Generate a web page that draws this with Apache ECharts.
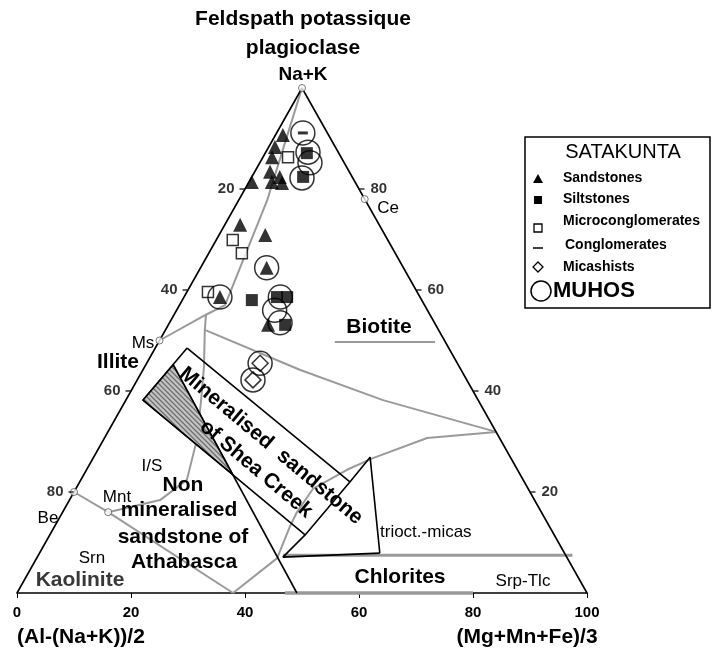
<!DOCTYPE html>
<html>
<head>
<meta charset="utf-8">
<title>Diagramme ternaire Na+K / Al / Mg+Mn+Fe</title>
<script src="https://cdn.jsdelivr.net/npm/echarts@6/dist/echarts.min.js"></script>
<style>
  html, body { margin: 0; padding: 0; background: #fff; }
  #chart { width: 714px; height: 652px; }
</style>
</head>
<body>
<div id="chart"></div>
<script>
// compositions : [ (Al-(Na+K))/2 , Na+K , (Mg+Mn+Fe)/3 ]
var sandstones = [
  [8.0, 90.7, 1.3], [10.6, 88.3, 1.1], [12.1, 86.3, 1.6], [13.9, 83.4, 2.7],
  [12.7, 82.4, 4.9], [18.1, 81.4, 0.5], [14.6, 81.4, 4.0], [12.9, 81.2, 5.9],
  [24.4, 72.9, 2.7], [21.0, 70.9, 8.1], [24.0, 64.4, 11.6], [35.1, 58.6, 6.3],
  [29.4, 53.1, 17.5]
];
var siltstones = [
  [5.6, 87.1, 7.3], [8.6, 82.4, 9.0], [29.8, 58.0, 12.2],
  [25.1, 58.6, 16.3], [23.3, 58.6, 18.1], [26.4, 53.1, 20.5]
];
var microconglomerates = [[9.3, 86.3, 4.4], [27.2, 69.9, 2.9], [26.9, 67.3, 5.8], [36.7, 59.6, 3.7]];
var conglomerates = [[4.3, 91.1, 4.6]];
var micashists = [[34.6, 45.5, 19.9], [37.5, 42.2, 20.3]];
var muhos = [
  [4.3, 91.1, 4.6], [5.3, 87.3, 7.4], [6.0, 85.2, 8.8], [8.9, 82.2, 8.9],
  [24.0, 64.4, 11.6], [35.1, 58.6, 6.3], [24.5, 58.6, 16.9], [26.8, 56.0, 17.2],
  [27.1, 53.5, 19.4], [34.6, 45.5, 19.9], [37.5, 42.2, 20.3]
];

// poles mineraux (apex, Ce, Ms, Be, Mnt)
var mineralPoles = [[0, 100, 0], [0, 78, 22], [50, 50, 0], [80, 20, 0], [76, 16, 8]];

// graduations
var bottomTicks = [0, 20, 40, 60, 80, 100];
var leftTicks = [20, 40, 60, 80];
var rightTicks = [20, 40, 60, 80];

// limites (gris)
var apexToMs = [[0, 100, 0], [17.2, 77.8, 5.0], [35.0, 57.0, 8.0], [39.3, 55.1, 5.6], [50, 50, 0]];
var illiteBiotite = [[39.3, 55.1, 5.6], [41.0, 52.1, 6.9], [28.3, 44.2, 27.5], [16.7, 38.2, 45.1], [0, 31.9, 68.1]];
var illiteSmectite = [[41.0, 52.1, 6.9], [44.8, 44.8, 10.4], [48.6, 38.2, 13.2], [53.3, 30.3, 16.4], [59.0, 22.4, 18.6], [65.7, 18.4, 15.9], [76, 16, 8]];
var beidelliteLine = [[80, 20, 0], [76, 16, 8], [62.1, 0, 37.9]];
var chloriteCurve = [[62.1, 0, 37.9], [50.9, 6.9, 42.2], [45.6, 13.1, 41.3], [42.9, 16.0, 41.1], [37.8, 20.6, 41.6], [29.9, 24.4, 45.7], [24.2, 26.7, 49.1], [12.7, 30.7, 56.6], [0, 31.9, 68.1]];
var chloriteTop = [[49.6, 7.5, 42.9], [-1.2, 7.5, 93.7]];
var chloriteBase = [[53, 0, 47], [20, 0, 80]];
var biotiteMark = [[19.4, 49.7, 30.9], [1.8, 49.7, 48.5]];

// limites (noir)
var sheaCreekBox = [[45.9, 48.5, 5.6], [30.6, 22.0, 47.4], [43.7, 11.5, 44.8], [58.8, 38.2, 3.0], [45.9, 48.5, 5.6]];
var athabascaLimit = [[50.0, 45.2, 4.8], [50.9, 0, 49.1]];
var triocticLimit = [[30.6, 22.0, 47.4], [24.6, 26.9, 48.5], [32.4, 7.9, 59.7]];
var chloriteLimit = [[43.7, 11.5, 44.8], [49.8, 7.1, 43.1], [32.4, 7.9, 59.7]];
var sheaHatch = [[58.8, 38.2, 3.0], [50.0, 45.2, 4.8], [50.4, 23.4, 26.2]];

// ternaire -> plan (x : 0..100 sur la base, y : Na+K)
function tern(p) {
  var s = p[0] + p[1] + p[2];
  return [(p[2] + p[1] / 2) / s * 100, p[1] / s * 100];
}
function path(arr) { return arr.map(tern); }

var FONT = '"Liberation Sans", Arial, sans-serif';

function lineSeries(pts, color, width, z) {
  return {
    type: 'line', data: path(pts), symbol: 'none', silent: true, clip: false,
    lineStyle: { color: color, width: width }, z: z, animation: false
  };
}

// motif hachure
var cv = document.createElement('canvas');
cv.width = 5; cv.height = 5;
var cx = cv.getContext('2d');
cx.fillStyle = '#c4c4c4';
cx.fillRect(0, 0, 5, 5);
cx.strokeStyle = '#6e6e6e';
cx.lineWidth = 1.3;
cx.beginPath();
cx.moveTo(-1, -1); cx.lineTo(6, 6);
cx.moveTo(-1, 4); cx.lineTo(1, 6);
cx.moveTo(4, -1); cx.lineTo(6, 1);
cx.stroke();

var chart = echarts.init(document.getElementById('chart'));

var series = [
  lineSeries(apexToMs, '#9a9a9a', 2, 2),
  lineSeries(illiteBiotite, '#9a9a9a', 2, 2),
  lineSeries(illiteSmectite, '#9a9a9a', 2, 2),
  lineSeries(beidelliteLine, '#9a9a9a', 2, 2),
  lineSeries(chloriteCurve, '#9a9a9a', 2, 2),
  lineSeries(chloriteTop, '#9a9a9a', 3, 2),
  lineSeries(chloriteBase, '#9a9a9a', 3.5, 3),
  lineSeries(biotiteMark, '#9a9a9a', 2, 2),
  {
    type: 'custom', coordinateSystem: 'cartesian2d', data: [[0, 0]], silent: true, z: 3,
    renderItem: function (params, api) {
      var pts = sheaHatch.map(function (p) { return api.coord(tern(p)); });
      return {
        type: 'polygon', shape: { points: pts },
        style: { fill: { image: cv, repeat: 'repeat' }, stroke: '#000', lineWidth: 1.2 }
      };
    }
  },
  lineSeries(sheaCreekBox, '#000', 1.6, 4),
  lineSeries(athabascaLimit, '#000', 1.6, 4),
  lineSeries(triocticLimit, '#000', 1.6, 4),
  lineSeries(chloriteLimit, '#000', 1.6, 4),
  lineSeries([[100, 0, 0], [0, 100, 0], [0, 0, 100]], '#000', 1.6, 4),
  {
    type: 'scatter', data: path(mineralPoles), symbol: 'circle', symbolSize: 7, clip: false, z: 5,
    itemStyle: { color: '#fff', borderColor: '#555', borderWidth: 1 }
  },
  {
    type: 'scatter', clip: false, z: 5, symbol: 'rect', symbolSize: [5, 1.5], symbolOffset: [-3, 0],
    itemStyle: { color: '#000' },
    data: leftTicks.map(function (a) { return { value: tern([a, 100 - a, 0]), name: String(a) }; }),
    label: { show: true, position: 'left', distance: 5, formatter: '{b}', color: '#000', fontSize: 15, fontWeight: 'bold', fontFamily: FONT }
  },
  {
    type: 'scatter', clip: false, z: 5, symbol: 'rect', symbolSize: [5, 1.5], symbolOffset: [3, 0],
    itemStyle: { color: '#000' },
    data: rightTicks.map(function (k) { return { value: tern([0, k, 100 - k]), name: String(k) }; }),
    label: { show: true, position: 'right', distance: 6, formatter: '{b}', color: '#000', fontSize: 15, fontWeight: 'bold', fontFamily: FONT }
  },
  {
    name: 'Sandstones', type: 'scatter', data: path(sandstones), symbol: 'triangle', symbolSize: 14,
    clip: false, z: 6, itemStyle: { color: '#000' }
  },
  {
    name: 'Siltstones', type: 'scatter', data: path(siltstones), symbol: 'rect', symbolSize: 12,
    clip: false, z: 6, itemStyle: { color: '#000' }
  },
  {
    name: 'Microconglomerates', type: 'scatter', data: path(microconglomerates), symbol: 'rect', symbolSize: 11,
    clip: false, z: 6, itemStyle: { color: '#fff', borderColor: '#000', borderWidth: 1.5 }
  },
  {
    name: 'Conglomerates', type: 'scatter', data: path(conglomerates), symbol: 'rect', symbolSize: [10, 3],
    clip: false, z: 6, itemStyle: { color: '#000' }
  },
  {
    name: 'Micashists', type: 'scatter', data: path(micashists), symbol: 'diamond', symbolSize: 16,
    clip: false, z: 6, itemStyle: { color: '#fff', borderColor: '#000', borderWidth: 1.5 }
  },
  {
    name: 'MUHOS', type: 'scatter', data: path(muhos), symbol: 'circle', symbolSize: 24,
    clip: false, z: 7, itemStyle: { color: 'rgba(0,0,0,0)', borderColor: '#000', borderWidth: 1.5 }
  }
];

function txt(x, y, s, size, bold, extra) {
  var el = {
    type: 'text', x: x, y: y, z: 20, silent: true,
    style: {
      text: s, fill: '#000', textAlign: 'center', textVerticalAlign: 'middle',
      font: (bold ? 'bold ' : '') + size + 'px ' + FONT
    }
  };
  if (extra) {
    for (var k in extra) {
      if (k === 'style') { for (var j in extra.style) el.style[j] = extra.style[j]; }
      else el[k] = extra[k];
    }
  }
  return el;
}

var rot = -40 * Math.PI / 180;
var left = { style: { textAlign: 'left' } };
var graphic = [
  txt(303, 19, 'Feldspath potassique', 21, true),
  txt(303, 48, 'plagioclase', 21, true),
  txt(303, 75, 'Na+K', 19, true),
  txt(81, 637, '(Al-(Na+K))/2', 21, true),
  txt(527, 637, '(Mg+Mn+Fe)/3', 21, true),
  txt(388, 208, 'Ce', 17, false),
  txt(143, 343, 'Ms', 17, false),
  txt(118, 362, 'Illite', 21, true),
  txt(152, 466, 'I/S', 17, false),
  txt(117, 497, 'Mnt', 17, false),
  txt(48, 518, 'Be', 17, false),
  txt(92, 558, 'Srn', 17, false),
  txt(80, 580, 'Kaolinite', 21, true, { style: { fill: '#383838' } }),
  txt(183, 485, 'Non', 21, true),
  txt(179, 510, 'mineralised', 21, true),
  txt(183, 537, 'sandstone of', 21, true),
  txt(184, 562, 'Athabasca', 21, true),
  txt(379, 327, 'Biotite', 21, true),
  txt(400, 577, 'Chlorites', 21, true),
  txt(523, 581, 'Srp-Tlc', 17, false),
  txt(380, 532, 'trioct.-micas', 17, false, left),
  txt(271, 446, 'Mineralised  sandstone', 21, true, { rotation: rot }),
  txt(256, 469, 'of Shea Creek', 21, true, { rotation: rot }),
  // legende
  { type: 'rect', shape: { x: 525, y: 137, width: 185, height: 171 }, z: 15, silent: true,
    style: { fill: '#fff', stroke: '#000', lineWidth: 1.5 } },
  txt(623, 152, 'SATAKUNTA', 20, false),
  { type: 'polygon', z: 20, shape: { points: [[533, 183], [543, 183], [538, 174]] }, style: { fill: '#000' } },
  { type: 'rect', z: 20, shape: { x: 534, y: 196, width: 8, height: 8 }, style: { fill: '#000' } },
  { type: 'rect', z: 20, shape: { x: 534, y: 224, width: 8, height: 8 }, style: { fill: '#fff', stroke: '#000', lineWidth: 1.3 } },
  { type: 'line', z: 20, shape: { x1: 533, y1: 248, x2: 543, y2: 248 }, style: { stroke: '#000', lineWidth: 1.5 } },
  { type: 'polygon', z: 20, shape: { points: [[538, 262], [543, 267], [538, 272], [533, 267]] }, style: { fill: '#fff', stroke: '#000', lineWidth: 1.3 } },
  { type: 'circle', z: 20, shape: { cx: 541, cy: 291, r: 10 }, style: { fill: 'none', stroke: '#000', lineWidth: 1.5 } },
  txt(563, 178, 'Sandstones', 14, true, left),
  txt(563, 199, 'Siltstones', 14, true, left),
  txt(563, 221, 'Microconglomerates', 14, true, left),
  txt(565, 245, 'Conglomerates', 14, true, left),
  txt(563, 267, 'Micashists', 14, true, left),
  txt(553, 291, 'MUHOS', 22, true, left)
];

chart.setOption({
  animation: false,
  backgroundColor: '#fff',
  textStyle: { fontFamily: FONT },
  grid: { left: 17, right: 127, top: 88, bottom: 59 },
  xAxis: {
    type: 'value', min: 0, max: 100, interval: 20,
    axisLine: { lineStyle: { color: '#000', width: 1.6 } },
    axisTick: { show: true, length: 5, lineStyle: { color: '#000' } },
    axisLabel: {
      color: '#000', fontSize: 15, fontWeight: 'bold', margin: 12,
      formatter: function (v) { return bottomTicks.indexOf(v) >= 0 ? String(v) : ''; }
    },
    splitLine: { show: false }
  },
  yAxis: { type: 'value', min: 0, max: 100, show: false },
  graphic: graphic,
  series: series
});
</script>
</body>
</html>
